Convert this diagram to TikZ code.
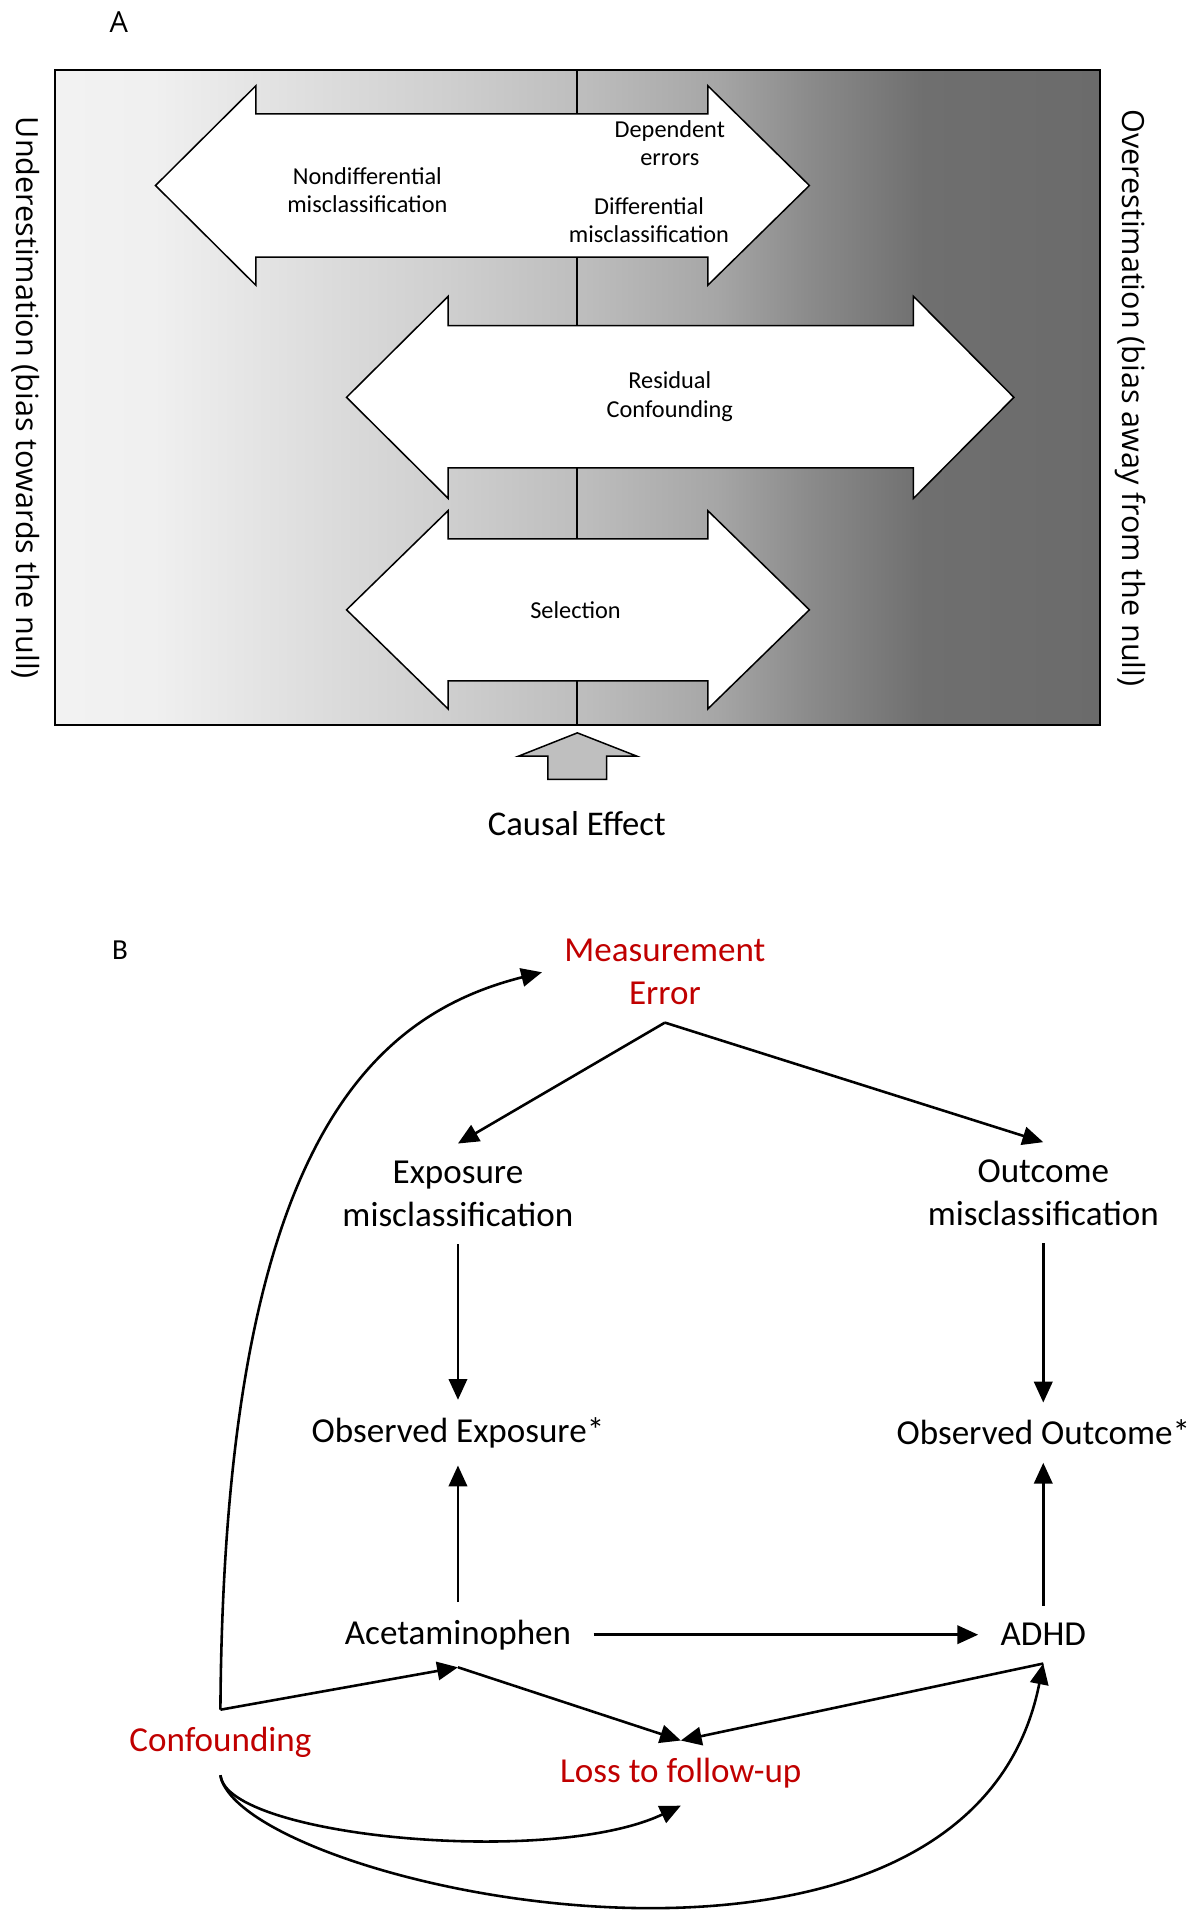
\documentclass[tikz,border=0pt]{standalone}
\usepackage{fontspec}
\setmainfont{Carlito}
\newfontfamily\sidefont{Open Sans}
\usetikzlibrary{arrows.meta}

\definecolor{errred}{HTML}{C00000}
\definecolor{causalgray}{HTML}{BFBFBF}

% Sfumatura dello sfondo (da chiaro a scuro)
\pgfdeclarehorizontalshading{biasgrad}{100bp}{%
  rgb(0bp)=(.95,.95,.95); rgb(25bp)=(.95,.95,.95);
  rgb(29.8bp)=(.94,.94,.94); rgb(37.2bp)=(.87,.87,.87);
  rgb(43.9bp)=(.81,.81,.81); rgb(50.4bp)=(.74,.74,.74);
  rgb(56.7bp)=(.65,.65,.65); rgb(61.3bp)=(.54,.54,.54);
  rgb(66.6bp)=(.435,.435,.435); rgb(75bp)=(.42,.42,.42);
  rgb(100bp)=(.42,.42,.42)}

\begin{document}
\begin{tikzpicture}[x=0.02cm, y=-0.02cm,
        % Stile per le frecce doppie bianche
        arrowbox/.style={fill=white, draw=black, line width=0.7pt, line join=miter},
        % Stile per le etichette dentro le frecce
        smalllabel/.style={font=\fontsize{11.3}{13.1}\selectfont, align=center, inner sep=0pt},
        % Stile per le etichette laterali
        sidelabel/.style={font=\sidefont\fontsize{14.2}{17}\selectfont, rotate=-90, inner sep=0pt},
        % Stile per i nodi del grafo (neri)
        dagnode/.style={font=\fontsize{16.3}{19.9}\selectfont, align=center, inner xsep=0.36cm, inner ysep=0.28cm},
        % Stile per i nodi di bias (rossi)
        biasnode/.style={dagnode, text=errred},
        % Stile per gli archi
        link/.style={-{Triangle[length=0.34cm, width=0.3cm]}, line width=1.2pt}
    ]

        \useasboundingbox (0,0) rectangle (982,1568);

        % --- PANNELLO A ---
        \node[font=\sidefont\fontsize{13.5}{16}\selectfont] (panelA) at (97,18) {A};

        % Sfondo sfumato e linea del nullo
        \shade[shading=biasgrad] (45,57) rectangle (898,592);
        \draw[line width=0.9pt] (471.5,57) -- (471.5,592);

        % Freccia doppia in alto (misclassificazione)
        \draw[arrowbox] (127,151.5) -- (209,70) -- (209,93) -- (578,93) -- (578,70) -- (661,151.5)
            -- (578,233) -- (578,210) -- (209,210) -- (209,233) -- cycle;

        % Freccia doppia al centro (confondimento residuo)
        \draw[arrowbox] (283,324.5) -- (366,242) -- (366,266) -- (746,266) -- (746,242) -- (828,324.5)
            -- (746,407) -- (746,382) -- (366,382) -- (366,407) -- cycle;

        % Freccia doppia in basso (selezione)
        \draw[arrowbox] (283,498) -- (366,417) -- (366,440) -- (578,440) -- (578,417) -- (661,498)
            -- (578,579) -- (578,556) -- (366,556) -- (366,579) -- cycle;

        % Bordo del riquadro
        \draw[line width=0.9pt] (45,57) rectangle (898,592);

        \node[smalllabel] (nondiff) at (300,155) {Nondifferential\\misclassification};
        \node[smalllabel] (deperr)  at (547,117) {Dependent\\errors};
        \node[smalllabel] (diffmis) at (530,180) {Differential\\misclassification};
        \node[smalllabel] (resconf) at (547,324) {Residual\\Confounding};
        \node[smalllabel] (selec)   at (470,498) {Selection};

        \node[sidelabel] (under) at (21,325) {Underestimation (bias towards the null)};
        \node[sidelabel] (over)  at (923,325) {Overestimation (bias away from the null)};

        % Freccia dell'effetto causale
        \draw[fill=causalgray, line width=0.7pt] (471.5,598.5) -- (520,617.5) -- (495.5,617.5) -- (495.5,636.5)
            -- (447.5,636.5) -- (447.5,617.5) -- (423.5,617.5) -- cycle;
        \node[font=\fontsize{16.1}{19}\selectfont] (causal) at (471,673) {Causal Effect};

        % --- PANNELLO B ---
        \node[font=\fontsize{13.5}{16}\selectfont] (panelB) at (98,776) {B};

        \node[biasnode] (me)     at (543,794)  {Measurement\\Error};
        \node[dagnode]  (expmis) at (374,975)  {Exposure\\misclassification};
        \node[dagnode]  (outmis) at (852,974)  {Outcome\\misclassification};
        \node[dagnode]  (obsexp) at (374,1170) {Observed Exposure*};
        \node[dagnode]  (obsout) at (852,1170) {Observed Outcome*};
        \node[dagnode]  (acet)   at (374,1335) {Acetaminophen};
        \node[dagnode]  (adhd)   at (852,1335) {ADHD};
        \node[biasnode] (conf)   at (180,1423) {Confounding};
        \node[biasnode] (loss)   at (556,1448) {Loss to follow-up};

        % --- ARCHI ---
        \draw[link] (me.south) -- (expmis.north);
        \draw[link] (me.south) -- (outmis.north);
        \draw[link] (expmis) -- (obsexp);
        \draw[link] (outmis) -- (obsout);
        \draw[link] (acet) -- (obsexp);
        \draw[link] (adhd) -- (obsout);
        \draw[link] (acet) -- (adhd);
        \draw[link] (conf.north) -- (acet.south);
        \draw[link] (acet.south) -- (loss.north);
        \draw[link] (adhd.south) -- (loss.north);

        % Archi curvi dal confondimento
        \draw[link] (conf.north) .. controls (183,940) and (300,830) .. (me.west);
        \draw[link] (conf.south) .. controls (185,1500) and (450,1525) .. (loss.south);
        \draw[link] (conf.south) .. controls (195,1540) and (790,1672) .. (adhd.south);

    \end{tikzpicture}
\end{document}
